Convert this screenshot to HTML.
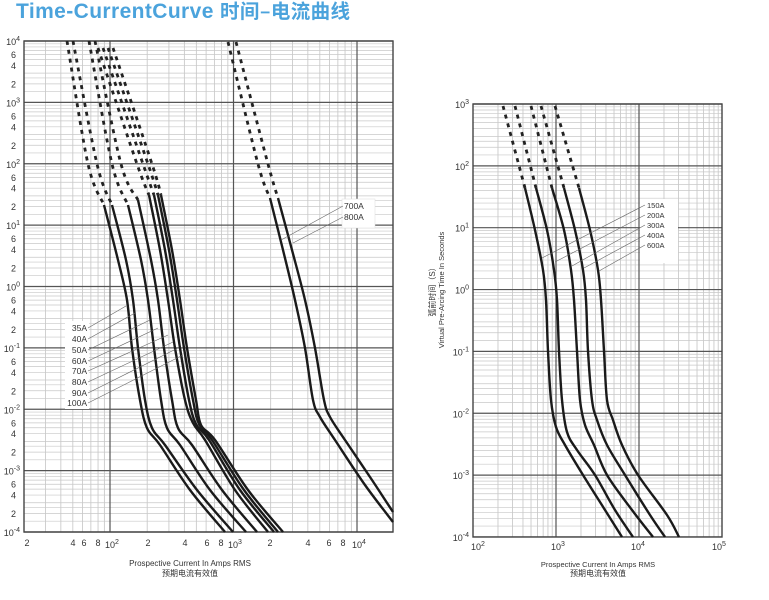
<!DOCTYPE html>
<html><head><meta charset="utf-8"><style>
html,body{margin:0;padding:0;background:#fff;width:769px;height:600px;overflow:hidden}
svg{display:block}
text{font-family:"Liberation Sans","Noto Sans CJK SC",sans-serif;fill:#333}
</style></head><body>
<svg id="s" width="769" height="600" viewBox="0 0 769 600" xmlns="http://www.w3.org/2000/svg">
<text x="16" y="18" style="font-size:21px;font-weight:bold;fill:#4ba3dc;letter-spacing:0.4px">Time-CurrentCurve <tspan style="font-family:'Noto Sans CJK SC',sans-serif;font-size:19.5px">时间–电流曲线</tspan></text>
<g id="g"></g>
</svg>
<script>
var NS="http://www.w3.org/2000/svg",G=document.getElementById('g');
function el(t,a,txt){var e=document.createElementNS(NS,t);for(var k in a)e.setAttribute(k,a[k]);if(txt!=null)e.textContent=txt;G.appendChild(e);return e;}
function line(x1,y1,x2,y2,c,w){el('line',{x1:x1,y1:y1,x2:x2,y2:y2,stroke:c,'stroke-width':w});}
function chart(o){
 var xl=function(l){return o.x0+(l-o.lx0)*o.ppdx}, yl=function(l){return o.y0+(o.ly0-l)*o.ppdy};
 var m=[1.5,2,2.5,3,4,5,6,7,8,9];
 for(var d=Math.floor(o.lx0)-1;d<=o.lx1;d++){for(var i=0;i<m.length;i++){var x=xl(d+Math.log10(m[i]));if(x>o.x0&&x<o.x1&&m[i]!=1.5&&m[i]!=2.5)line(x,o.y0,x,o.y1,'#c4c4c4',0.8);}}
 for(var d=o.ly1;d<o.ly0;d++){for(var i=0;i<m.length;i++){var y=yl(d+Math.log10(m[i]));line(o.x0,y,o.x1,y,'#c8c8c8',0.7);}}
 for(var d=Math.ceil(o.lx0);d<=o.lx1;d++){var x=xl(d);if(x>o.x0+1&&x<o.x1-1)line(x,o.y0,x,o.y1,'#555',1.2);}
 for(var d=o.ly1;d<=o.ly0;d++){var y=yl(d);line(o.x0,y,o.x1,y,'#555',1.2);}
 el('rect',{x:o.x0,y:o.y0,width:o.x1-o.x0,height:o.y1-o.y0,fill:'none',stroke:'#444','stroke-width':1.4});
 for(var d=o.ly1;d<=o.ly0;d++){var y=yl(d);
  var t=el('text',{x:o.x0-4,y:y+4,'text-anchor':'end','font-size':9});t.innerHTML='10<tspan dy="-4" font-size="7">'+d+'</tspan>';
  if(o.ymin&&d<o.ly0){[2,4,6].forEach(function(v){el('text',{x:o.x0-8,y:yl(d+Math.log10(v))+3.5,'text-anchor':'end','font-size':9},v)});}
 }
}
function cr(p){var s='M'+p[0][0]+','+p[0][1];for(var i=0;i<p.length-1;i++){var p0=p[i-1]||p[i],p1=p[i],p2=p[i+1],p3=p[i+2]||p2;
 s+=' C'+(p1[0]+(p2[0]-p0[0])/6)+','+(p1[1]+(p2[1]-p0[1])/6)+' '+(p2[0]-(p3[0]-p1[0])/6)+','+(p2[1]-(p3[1]-p1[1])/6)+' '+p2[0]+','+p2[1];}return s;}
function curve(d,s){el('path',{d:cr(d),fill:'none',stroke:'#222','stroke-width':2.8,'stroke-dasharray':'4,5'});el('path',{d:cr(s),fill:'none',stroke:'#1a1a1a','stroke-width':2.4,'stroke-linejoin':'round'});}
chart({x0:24,x1:393,lx0:1.3036,lx1:4.29,ppdx:123.5,y0:41,y1:532,ly0:4,ly1:-4,ppdy:61.375,ymin:true});
var xl=[[27,'2'],[73,'4'],[84,'6'],[98,'8'],[148,'2'],[185,'4'],[207,'6'],[221,'8'],[270,'2'],[308,'4'],[329,'6'],[343,'8']];
xl.forEach(function(a){el('text',{x:a[0],y:546,'text-anchor':'middle','font-size':9},a[1])});
[[112,2],[235,3],[359,4]].forEach(function(a){var t=el('text',{x:a[0],y:548,'text-anchor':'middle','font-size':9});t.innerHTML='10<tspan dy="-4" font-size="7">'+a[1]+'</tspan>';});
el('text',{x:190,y:566,'text-anchor':'middle','font-size':8},'Prospective Current In Amps RMS');
el('text',{x:190,y:576,'text-anchor':'middle','font-size':8},'预期电流有效值');
var L=[
[[[67,41],[88,164],[104,205]],[[104,205],[118,260],[127,300],[132,348],[140,400],[147,428],[160,445],[190,490],[225,532]]],
[[[73,41],[97,164],[112,205]],[[112,205],[126,260],[133,300],[138,348],[145,400],[152,428],[165,445],[197,490],[233,532]]],
[[[89,41],[112,164],[128,205]],[[128,205],[141,260],[148,300],[154,348],[161,400],[167,428],[180,445],[210,490],[246,532]]],
[[[95,41],[121,164],[138,200]],[[138,200],[151,260],[158,300],[164,348],[172,400],[178,428],[192,445],[222,490],[257,532]]],
[[[98,48],[137,164],[149,195]],[[149,195],[160,250],[168,300],[175,348],[185,400],[193,423],[205,440],[235,490],[268,532]]],
[[[103,48],[143,164],[154,195]],[[154,195],[165,250],[173,300],[180,348],[189,400],[196,424],[209,440],[240,490],[274,532]]],
[[[108,48],[148,164],[158,195]],[[158,195],[169,250],[177,300],[184,348],[193,400],[199,424],[212,440],[244,490],[278,532]]],
[[[113,48],[152,164],[161,195]],[[161,195],[172,250],[180,300],[187,348],[196,400],[201,425],[215,440],[248,490],[283,532]]],
[[[228,42],[258,164],[270,198]],[[270,198],[283,250],[295,300],[305,348],[313,400],[320,417],[335,440],[365,485],[393,522]]],
[[[236,42],[268,164],[278,198]],[[278,198],[292,250],[305,300],[315,348],[324,400],[330,417],[345,440],[372,480],[393,512]]]
];
L.forEach(function(c){curve(c[0],c[1])});
el('rect',{x:65,y:321,width:24,height:88,fill:'#fff'});
var lab=['35A','40A','50A','60A','70A','80A','90A','100A'],ly=[328,339,350,361,371,382,393,403],ex=[126,135,150,158,168,173,178,183],ey=[306,313,320,328,335,342,348,355];
lab.forEach(function(t,i){el('text',{x:87,y:ly[i]+3,'text-anchor':'end','font-size':8.5},t);line(88,ly[i],ex[i],ey[i],'#666',0.6);});
el('rect',{x:342,y:199,width:33,height:29,fill:'#fff',stroke:'#ddd','stroke-width':0.5});
el('text',{x:344,y:209,'font-size':8.5},'700A');el('text',{x:344,y:220,'font-size':8.5},'800A');
line(343,206,281,240,'#666',0.6);line(343,217,293,243,'#666',0.6);
chart({x0:473,x1:722,lx0:2,lx1:5,ppdx:83,y0:104,y1:537,ly0:3,ly1:-4,ppdy:61.85,ymin:false});
[[478,2],[558,3],[638,4],[719,5]].forEach(function(a){var t=el('text',{x:a[0],y:550,'text-anchor':'middle','font-size':9});t.innerHTML='10<tspan dy="-4" font-size="7">'+a[1]+'</tspan>';});
el('text',{x:598,y:567,'text-anchor':'middle','font-size':7.5},'Prospective Current In Amps RMS');
el('text',{x:598,y:576,'text-anchor':'middle','font-size':8},'预期电流有效值');
el('text',{x:0,y:0,'font-size':7.5,'text-anchor':'middle',transform:'translate(444,290) rotate(-90)'},'Virtual Pre-Arcing Time In Seconds');
el('text',{x:0,y:0,'font-size':8,'text-anchor':'middle',transform:'translate(435,290) rotate(-90)'},'弧前时间（S）');
var R=[
[[[503,106],[525,188]],[[525,188],[535,230],[543,270],[546,300],[548,351],[551,400],[556,427],[565,445],[583,475],[605,510],[622,537]]],
[[[515,106],[536,188]],[[536,188],[547,230],[554,270],[557,300],[559,351],[562,400],[567,432],[577,450],[595,475],[615,510],[633,537]]],
[[[531,106],[552,188]],[[552,188],[564,230],[571,270],[574,300],[577,351],[580,400],[585,425],[594,445],[607,475],[632,510],[653,537]]],
[[[541,106],[564,188]],[[564,188],[575,230],[583,270],[586,300],[588,351],[592,400],[597,420],[607,445],[625,475],[650,515],[665,537]]],
[[[555,106],[579,188]],[[579,188],[590,230],[598,270],[601,300],[604,351],[607,400],[613,420],[622,445],[638,475],[667,515],[679,537]]]
];
R.forEach(function(c){curve(c[0],c[1])});
el('rect',{x:640,y:199,width:38,height:64,fill:'#fff'});
var rl=['150A','200A','300A','400A','600A'],ry=[205,215,225,235,245],rx=[542,555,572,584,599],rey=[258,262,266,268,271];
rl.forEach(function(t,i){el('text',{x:647,y:ry[i]+3,'font-size':7.5},t);line(645,ry[i],rx[i],rey[i],'#666',0.6);});
</script>
</body></html>
